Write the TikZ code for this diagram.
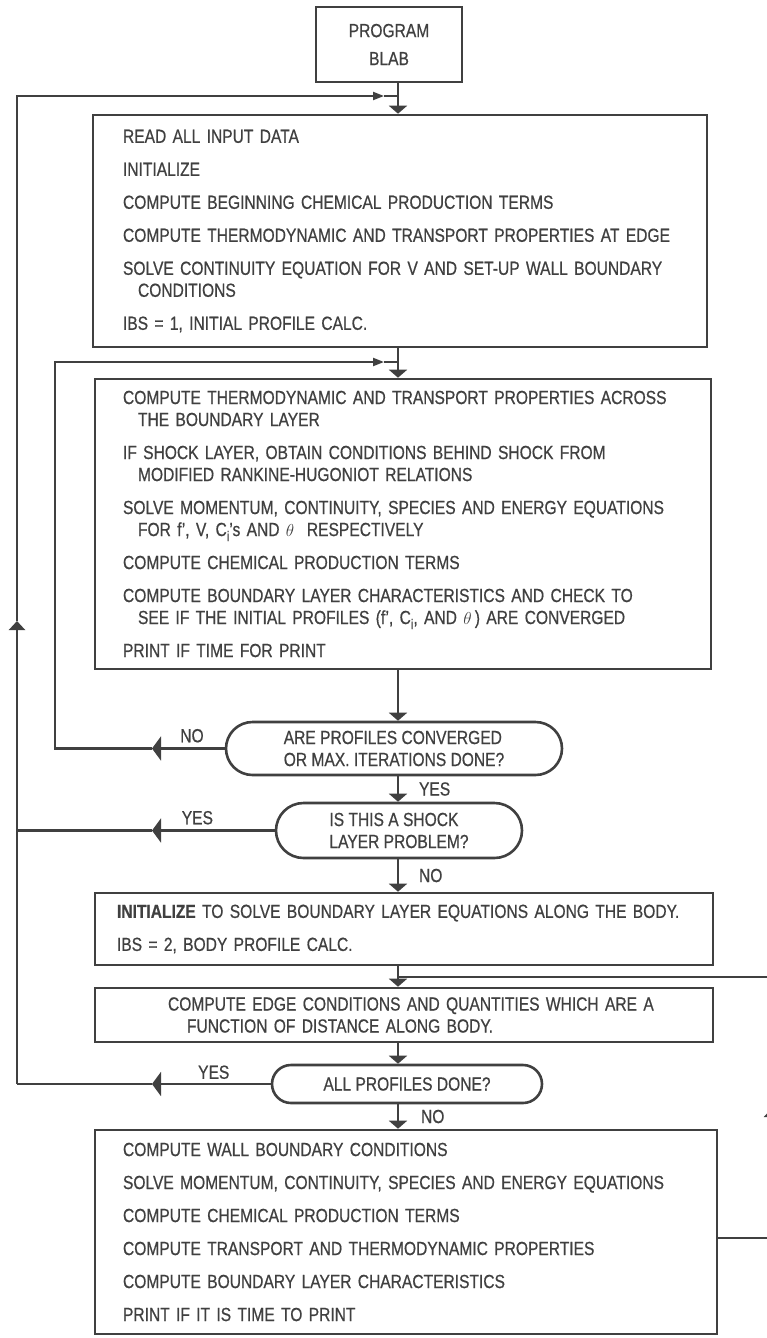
\documentclass[tikz,border=0pt]{standalone}
\usepackage{fontspec}
\setmainfont{Liberation Sans}[FakeStretch=0.82, FakeBold=0.6]
\usetikzlibrary{arrows.meta,shapes.misc}
\definecolor{ink}{HTML}{404040}

\newcommand{\flowfont}{\fontsize{19}{22}\selectfont}
\newcommand{\cont}{\hspace*{15pt}}
\newcommand{\subi}{\raisebox{-5pt}{\fontsize{14}{14}\selectfont i}}

\begin{document}
\begin{tikzpicture}[x=1pt,y=-1pt,
    every node/.style={text=ink},
    box/.style={draw=ink, line width=2.6pt, inner sep=0pt, align=left, font=\flowfont},
    test/.style={draw=ink, line width=2.6pt, rounded rectangle, inner sep=0pt, align=left, font=\flowfont},
    wire/.style={draw=ink, line width=2.1pt},
    spine/.style={wire, -{Triangle[width=18pt,length=8pt]}},
    backflow/.style={wire, -{Triangle[width=24pt,length=9pt]}},
    rise/.style={wire, -{Triangle[width=16pt,length=9pt]}},
    merge/.style={wire, -{Triangle[width=8pt,length=11pt]}},
    lbl/.style={font=\flowfont, inner sep=0pt}]
    \useasboundingbox (0,0) rectangle (767,1338);
    \fill[white] (0,0) rectangle (767,1338);

    % columns used by the return lines
    \coordinate (axis) at (398,0);
    \coordinate (outer) at (17,0);
    \coordinate (inner) at (55,0);
    \coordinate (barb) at (152,0);
    \coordinate (rail) at (772,0);
    \coordinate (topjoin) at (384,96);
    \coordinate (midjoin) at (384,362);
    \coordinate (lowjoin) at (398,977);
    \coordinate (railmark) at (17,621);
    \coordinate (railtip) at (772,1108);

    % boxes
    \node[box, minimum width=146pt, minimum height=75pt, align=center] (prog) at (389,44.5) {PROGRAM\\[6pt]BLAB};
    \node[box, minimum width=614pt, minimum height=232pt, text width=554pt] (read) at (400,231) {%
        READ ALL INPUT DATA\\[11pt]
        INITIALIZE\\[11pt]
        COMPUTE BEGINNING CHEMICAL PRODUCTION TERMS\\[11pt]
        COMPUTE THERMODYNAMIC AND TRANSPORT PROPERTIES AT EDGE\\[11pt]
        SOLVE CONTINUITY EQUATION FOR V AND SET-UP WALL BOUNDARY\\
        \cont CONDITIONS\\[11pt]
        IBS = 1, INITIAL PROFILE CALC.};
    \node[box, minimum width=616pt, minimum height=290pt, text width=560pt] (props) at (403,524) {%
        COMPUTE THERMODYNAMIC AND TRANSPORT PROPERTIES ACROSS\\
        \cont THE BOUNDARY LAYER\\[11pt]
        IF SHOCK LAYER, OBTAIN CONDITIONS BEHIND SHOCK FROM\\
        \cont MODIFIED RANKINE-HUGONIOT RELATIONS\\[11pt]
        SOLVE MOMENTUM, CONTINUITY, SPECIES AND ENERGY EQUATIONS\\
        \cont FOR f', V, C\subi's AND $\theta$\ \ RESPECTIVELY\\[11pt]
        COMPUTE CHEMICAL PRODUCTION TERMS\\[11pt]
        COMPUTE BOUNDARY LAYER CHARACTERISTICS AND CHECK TO\\
        \cont SEE IF THE INITIAL PROFILES (f', C\subi, AND $\theta$\,) ARE CONVERGED\\[11pt]
        PRINT IF TIME FOR PRINT};
    \node[test, minimum width=336pt, minimum height=53pt] (conv) at (394,748.5) {ARE PROFILES CONVERGED\\OR MAX. ITERATIONS DONE?};
    \node[test, minimum width=246pt, minimum height=55pt] (shock) at (399,830.5) {IS THIS A SHOCK\\LAYER PROBLEM?};
    \node[box, minimum width=618pt, minimum height=72pt, text width=574pt] (init) at (404,929) {%
        \textbf{INITIALIZE} TO SOLVE BOUNDARY LAYER EQUATIONS ALONG THE BODY.\\[11pt]
        IBS = 2, BODY PROFILE CALC.};
    \node[box, minimum width=618pt, minimum height=54pt, text width=562pt] (edge) at (404,1015) {%
        \hspace*{45pt}COMPUTE EDGE CONDITIONS AND QUANTITIES WHICH ARE A\\
        \hspace*{64pt}FUNCTION OF DISTANCE ALONG BODY.};
    \node[test, minimum width=270pt, minimum height=38pt] (done) at (407,1084) {ALL PROFILES DONE?};
    \node[box, minimum width=622pt, minimum height=204pt, text width=566pt] (body) at (406,1232) {%
        COMPUTE WALL BOUNDARY CONDITIONS\\[11pt]
        SOLVE MOMENTUM, CONTINUITY, SPECIES AND ENERGY EQUATIONS\\[11pt]
        COMPUTE CHEMICAL PRODUCTION TERMS\\[11pt]
        COMPUTE TRANSPORT AND THERMODYNAMIC PROPERTIES\\[11pt]
        COMPUTE BOUNDARY LAYER CHARACTERISTICS\\[11pt]
        PRINT IF IT IS TIME TO PRINT};

    % main line
    \draw[spine] (prog.south -| axis) -- (read.north -| axis);
    \draw[spine] (read.south -| axis) -- (props.north -| axis);
    \draw[spine] (props.south -| axis) -- (conv.north -| axis);
    \draw[spine] (conv.south -| axis) -- node[lbl, right=20pt] {YES} (shock.north -| axis);
    \draw[spine] (shock.south -| axis) -- node[lbl, right=20pt] {NO} (init.north -| axis);
    \draw[spine] (init.south -| axis) -- (edge.north -| axis);
    \draw[spine] (edge.south -| axis) -- (done.north -| axis);
    \draw[spine] (done.south -| axis) -- node[lbl, right=22pt] {NO} (body.north -| axis);

    % iterate again on the initial profiles
    \draw[backflow] (conv.west) -- node[lbl, pos=0.45, above=5pt] {NO} (conv.west -| barb);
    \draw[merge] (conv.west -| barb) -- (conv.west -| inner) -- (inner |- midjoin) -- (midjoin);
    \draw[wire] (midjoin) -- (midjoin -| axis);

    % back to the start
    \draw[backflow] (shock.west) -- node[lbl, pos=0.63, above=5pt] {YES} (shock.west -| barb);
    \draw[wire] (shock.west -| barb) -- (shock.west -| outer);
    \draw[backflow] (done.west) -- node[lbl, pos=0.48, above=4pt] {YES} (done.west -| barb);
    \draw[wire] (done.west -| barb) -- (done.west -| outer);
    \draw[rise] (done.west -| outer) -- (railmark);
    \draw[merge] (railmark) -- (outer |- topjoin) -- (topjoin);
    \draw[wire] (topjoin) -- (topjoin -| axis);

    % next station along the body
    \draw[rise] ([yshift=-6pt]body.east) -| (railtip);
    \draw[wire] (railtip) -- (rail |- lowjoin) -- (lowjoin);
\end{tikzpicture}
\end{document}
